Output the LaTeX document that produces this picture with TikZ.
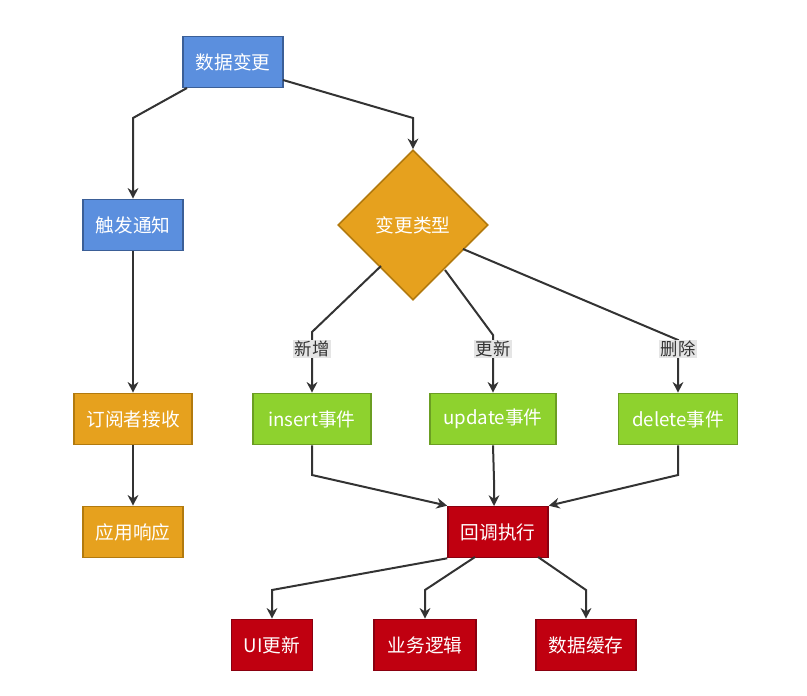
\documentclass[tikz,border=0pt]{standalone}
\usepackage{fontspec}
\setmainfont{Noto Sans CJK SC}
\usetikzlibrary{shapes.geometric,arrows.meta,positioning}
\definecolor{bluefill}{HTML}{5B8FDE}
\definecolor{blueline}{HTML}{3B5F97}
\definecolor{orfill}{HTML}{E6A11E}
\definecolor{orline}{HTML}{B27A0E}
\definecolor{grfill}{HTML}{8ED22E}
\definecolor{grline}{HTML}{6B9E22}
\definecolor{rdfill}{HTML}{C00010}
\definecolor{rdline}{HTML}{8A0010}
\definecolor{edgec}{HTML}{333333}
\tikzset
{
    box/.style = {rectangle, draw, line width=1.2pt, text=white, minimum height=51*0.75pt, align=center, font=\fontsize{14}{16}\selectfont},
    bluenode/.style = {box, fill=bluefill, draw=blueline, minimum width=100*0.75pt},
    ornode/.style = {box, fill=orfill, draw=orline},
    grnode/.style = {box, fill=grfill, draw=grline, minimum width=118*0.75pt},
    rdnode/.style = {box, fill=rdfill, draw=rdline},
    decnode/.style = {diamond, draw=orline, fill=orfill, line width=1.2pt, text=white, minimum width=150*0.75pt, minimum height=150*0.75pt, inner sep=0pt, font=\fontsize{14}{16}\selectfont},
    lbl/.style = {fill=black!10, text=edgec, inner sep=1pt, font=\fontsize{13}{15}\selectfont},
    conn/.style = {draw=edgec, line width=1.5pt, -{Stealth[length=8pt,width=8pt]}}
}
\begin{document}
\begin{tikzpicture}[x=0.75pt,y=-0.75pt]
    \useasboundingbox (0,0) rectangle (807,696);
    % ------------------------------------------------ nodes
    \node [bluenode] (change) at (233,62) {数据变更};
    \node [bluenode] (notify) at (133,225) {触发通知};
    \node [decnode] (type) at (413,225) {变更类型};
    \node [ornode, minimum width=118*0.75pt] (recv) at (133,419) {订阅者接收};
    \node [ornode, minimum width=100*0.75pt] (resp) at (133,532) {应用响应};
    \node [grnode] (ins) at (312,419) {insert事件};
    \node [grnode, minimum width=126*0.75pt] (upd) at (493,419) {update事件};
    \node [grnode, minimum width=119*0.75pt] (del) at (678,419) {delete事件};
    \node [rdnode, minimum width=100*0.75pt] (cb) at (498,532) {回调执行};
    \node [rdnode, minimum width=81*0.75pt] (ui) at (272,645) {UI更新};
    \node [rdnode, minimum width=102*0.75pt] (biz) at (425,645) {业务逻辑};
    \node [rdnode, minimum width=100*0.75pt] (cache) at (586,645) {数据缓存};
    % ------------------------------------------------ connectors
    \draw [conn] (187,88) -- (133,118) -- (notify);
    \draw [conn] (283,80) -- (413,118) -- (type);
    \draw [conn] (notify) -- (recv);
    \draw [conn] (recv) -- (resp);
    \draw [conn] (381,266) -- (312,332) -- (ins);
    \draw [conn] (445,270) -- (493,335) -- (upd);
    \draw [conn] (463,249) -- (678,340) -- (del);
    \node [lbl] at (312,349) {新增};
    \node [lbl] at (493,349) {更新};
    \node [lbl] at (678,349) {删除};
    \draw [conn] (ins.south) -- (312,475) -- (cb.north west);
    \draw [conn] (upd.south) -- (494,480) -- (494,506);
    \draw [conn] (del.south) -- (678,475) -- (cb.north east);
    \draw [conn] (cb.south west) -- (272,590) -- (ui);
    \draw [conn] (475,557) -- (425,590) -- (biz);
    \draw [conn] (538,557) -- (586,590) -- (cache);
\end{tikzpicture}
\end{document}
